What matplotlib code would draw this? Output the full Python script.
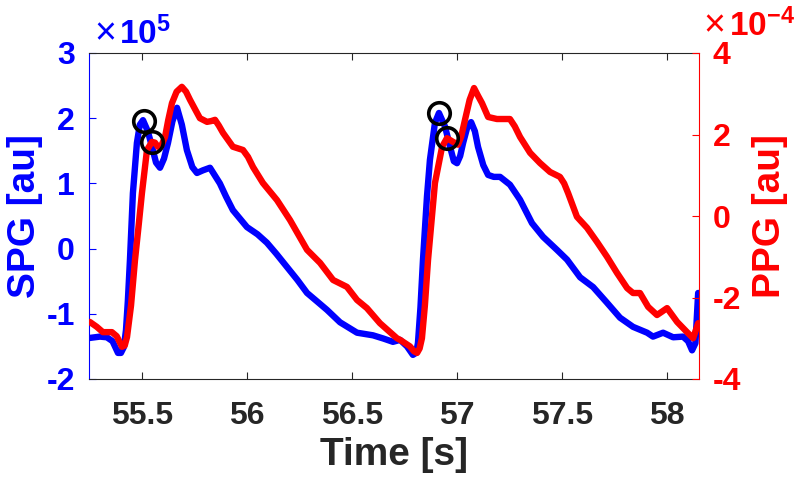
import matplotlib
matplotlib.use("Agg")
import matplotlib.pyplot as plt

plt.rcParams['font.family'] = ['Liberation Sans', 'DejaVu Sans']
plt.rcParams['font.weight'] = 'bold'
plt.rcParams['mathtext.fontset'] = 'custom'
plt.rcParams['mathtext.rm'] = 'Liberation Sans'
plt.rcParams['mathtext.bf'] = 'Liberation Sans:bold'

# SPG signal (units of 1e5 au)
spg_t = [55.252, 55.300, 55.333, 55.360, 55.386, 55.400, 55.414, 55.424, 55.433, 55.443,
         55.457, 55.476, 55.490, 55.505, 55.528, 55.548, 55.567, 55.586, 55.605, 55.624,
         55.645, 55.667, 55.690, 55.714, 55.740, 55.762, 55.790, 55.824, 55.871, 55.900,
         55.933, 56.000, 56.050, 56.095, 56.140, 56.190, 56.240, 56.286, 56.330, 56.381,
         56.443, 56.524, 56.600, 56.650, 56.695, 56.729, 56.762, 56.790, 56.805, 56.814,
         56.826, 56.838, 56.857, 56.871, 56.895, 56.914, 56.943, 56.967, 56.985, 57.000,
         57.015, 57.029, 57.048, 57.067, 57.085, 57.100, 57.125, 57.148, 57.175, 57.205,
         57.252, 57.300, 57.357, 57.410, 57.476, 57.524, 57.586, 57.648, 57.714, 57.776,
         57.838, 57.905, 57.933, 57.981, 58.029, 58.076, 58.100, 58.119, 58.135, 58.148]
spg_v = [-1.37, -1.35, -1.36, -1.42, -1.60, -1.60, -1.51, -1.25, -0.80, -0.17,
         0.85, 1.62, 1.90, 1.97, 1.80, 1.56, 1.32, 1.24, 1.38, 1.62,
         1.95, 2.16, 1.90, 1.51, 1.25, 1.16, 1.20, 1.24, 1.00, 0.80,
         0.59, 0.33, 0.22, 0.09, -0.08, -0.28, -0.48, -0.68, -0.80, -0.94,
         -1.13, -1.29, -1.33, -1.38, -1.43, -1.40, -1.50, -1.63, -1.60, -1.45,
         -0.90, -0.17, 0.80, 1.36, 1.93, 2.08, 1.87, 1.56, 1.34, 1.31,
         1.42, 1.62, 1.85, 1.94, 1.80, 1.56, 1.28, 1.13, 1.10, 1.10,
         0.98, 0.75, 0.39, 0.18, -0.02, -0.17, -0.44, -0.59, -0.83, -1.06,
         -1.20, -1.29, -1.35, -1.29, -1.36, -1.35, -1.42, -1.56, -1.45, -0.68]

# PPG signal (units of 1e-4 au)
ppg_t = [55.252, 55.285, 55.314, 55.357, 55.380, 55.405, 55.418, 55.429, 55.448, 55.467,
         55.485, 55.500, 55.524, 55.548, 55.562, 55.576, 55.592, 55.610, 55.625, 55.643,
         55.665, 55.690, 55.710, 55.729, 55.755, 55.776, 55.810, 55.830, 55.848, 55.866,
         55.886, 55.933, 55.981, 56.005, 56.029, 56.076, 56.143, 56.205, 56.286, 56.348,
         56.410, 56.476, 56.524, 56.571, 56.633, 56.714, 56.729, 56.776, 56.795, 56.810,
         56.822, 56.833, 56.847, 56.862, 56.880, 56.895, 56.929, 56.952, 56.981, 57.005,
         57.020, 57.038, 57.060, 57.081, 57.100, 57.119, 57.148, 57.190, 57.252, 57.275,
         57.300, 57.348, 57.395, 57.443, 57.490, 57.510, 57.529, 57.571, 57.619, 57.667,
         57.714, 57.762, 57.810, 57.838, 57.871, 57.910, 57.952, 57.975, 58.000, 58.048,
         58.095, 58.124, 58.148]
ppg_v = [-2.60, -2.72, -2.85, -2.85, -2.95, -3.21, -3.18, -2.97, -2.20, -1.08,
         -0.20, 0.56, 1.62, 1.82, 1.80, 1.70, 1.72, 1.94, 2.35, 2.77,
         3.05, 3.17, 3.05, 2.85, 2.60, 2.40, 2.31, 2.33, 2.36, 2.22,
         2.04, 1.70, 1.62, 1.45, 1.20, 0.81, 0.39, -0.10, -0.83, -1.15,
         -1.57, -1.74, -2.06, -2.26, -2.63, -3.00, -3.04, -3.20, -3.32, -3.36,
         -3.25, -3.00, -2.20, -1.08, -0.05, 0.81, 1.70, 1.91, 1.82, 1.75,
         1.95, 2.36, 2.85, 3.14, 2.95, 2.77, 2.43, 2.38, 2.38, 2.20,
         1.94, 1.55, 1.30, 1.08, 0.96, 0.80, 0.56, -0.02, -0.29, -0.64,
         -1.00, -1.40, -1.77, -1.89, -1.89, -2.23, -2.43, -2.35, -2.26, -2.60,
         -2.85, -3.00, -2.63]

# detected peaks (circles)
spg_peak_t = [55.508, 56.914]
spg_peak_v = [1.96, 2.08]
ppg_peak_t = [55.548, 56.952]
ppg_peak_v = [1.82, 1.91]

xticks = [55.5, 56, 56.5, 57, 57.5, 58]
xticklabels = ['55.5', '56', '56.5', '57', '57.5', '58']
spg_ticks = [-2, -1, 0, 1, 2, 3]
ppg_ticks = [-4, -2, 0, 2, 4]

BLUE = (0, 0, 1)
RED = (1, 0, 0)
DARK = (0.15, 0.15, 0.15)

fig = plt.figure(figsize=(7.96, 4.82), dpi=100)
ax1 = fig.add_axes([89/796, 1 - 379/482, (699-89)/796, (379-53)/482])
ax2 = ax1.twinx()

ax1.plot(spg_t, spg_v, color=BLUE, lw=4.6, solid_joinstyle='round', solid_capstyle='round')
ax2.plot(ppg_t, ppg_v, color=RED, lw=4.6, solid_joinstyle='round', solid_capstyle='round')
ax2.plot(spg_peak_t, spg_peak_v, 'o', transform=ax1.transData, ms=15.5, mfc='none',
         mec='black', mew=2.6, zorder=5)
ax2.plot(ppg_peak_t, ppg_peak_v, 'o', ms=15.5, mfc='none', mec='black', mew=2.6, zorder=5)

ax1.set_xlim(55.248, 58.152)
ax1.set_ylim(-2, 3)
ax2.set_ylim(-4, 4)

ax1.set_xticks(xticks)
ax1.set_xticklabels(xticklabels)
ax1.set_yticks(spg_ticks)
ax1.set_yticklabels([str(v) for v in spg_ticks])
ax2.set_yticks(ppg_ticks)
ax2.set_yticklabels([str(v) for v in ppg_ticks])

fs = 23
ax1.tick_params(axis='x', direction='in', top=True, bottom=True, length=5, width=0.8,
                color=DARK, labelcolor=DARK, labelsize=fs, pad=16)
ax1.tick_params(axis='y', direction='in', left=True, right=False, length=5, width=0.8,
                color=BLUE, labelcolor=BLUE, labelsize=fs, pad=10)
ax2.tick_params(axis='y', direction='in', right=True, left=False, length=5, width=0.8,
                color=RED, labelcolor=RED, labelsize=fs, pad=10)

for s in ['top', 'bottom']:
    ax1.spines[s].set_color(DARK)
    ax1.spines[s].set_linewidth(0.8)
ax1.spines['left'].set_color(BLUE)
ax1.spines['left'].set_linewidth(0.8)
ax1.spines['right'].set_visible(False)
ax2.spines['right'].set_color(RED)
ax2.spines['right'].set_linewidth(0.8)
for s in ['top', 'bottom', 'left']:
    ax2.spines[s].set_visible(False)

ax1.set_xlabel('Time [s]', fontsize=28, fontweight='bold', color=DARK, labelpad=4)
ax1.set_ylabel('SPG [au]', fontsize=28, fontweight='bold', color=BLUE, labelpad=3)
ax2.set_ylabel('PPG [au]', fontsize=28, fontweight='bold', color=RED, labelpad=8)

# axis multipliers
fig.text(94/796, 1 - 44/482, '×', color=BLUE, fontsize=27, fontweight='normal',
         ha='left', va='baseline')
fig.text(119/796, 1 - 44/482, r'$\mathbf{10^{5}}$', color=BLUE, fontsize=24,
         ha='left', va='baseline')
fig.text(703/796, 1 - 36/482, '×', color=RED, fontsize=27, fontweight='normal',
         ha='left', va='baseline')
fig.text(729/796, 1 - 36/482, r'$\mathbf{10^{-4}}$', color=RED, fontsize=24,
         ha='left', va='baseline')

fig.savefig('out.png', dpi=100)
